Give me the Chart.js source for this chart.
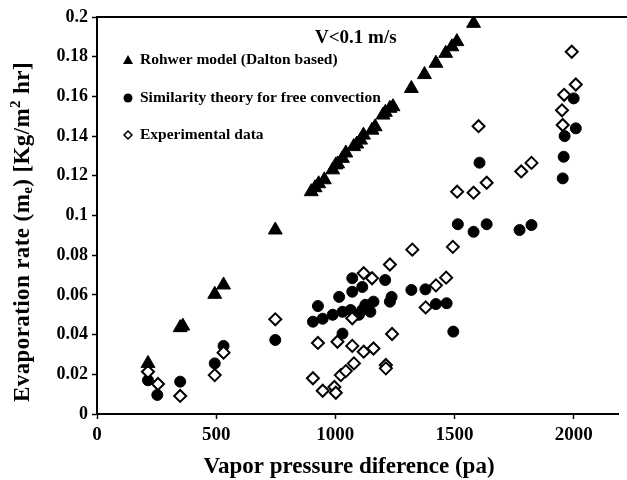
<!DOCTYPE html>
<html lang="en">
<head>
  <meta charset="UTF-8">
  <title>Evaporation rate</title>
  <style>
    html, body { margin: 0; padding: 0; background: #fff; }
    #wrap { width: 627px; height: 480px; }
  </style>
</head>
<body>
  <div id="wrap"><canvas id="evapChart" width="627" height="480"></canvas></div>
  <script src="https://cdn.jsdelivr.net/npm/chart.js"></script>
  <script>
    // values
    const rohwerX = [214, 349, 360, 494, 531, 748, 899, 915, 930, 954, 989, 1002, 1010, 1030, 1044, 1077, 1090, 1106, 1118, 1154, 1167, 1200, 1210, 1229, 1242, 1319, 1374, 1422, 1463, 1489, 1510, 1580];
    const rohwerY = [0.0255, 0.0435, 0.0443, 0.0603, 0.065, 0.0927, 0.112, 0.114, 0.116, 0.118, 0.123, 0.1255, 0.126, 0.1288, 0.1315, 0.1347, 0.136, 0.138, 0.1405, 0.143, 0.1447, 0.1506, 0.152, 0.154, 0.1548, 0.164, 0.171, 0.1767, 0.1817, 0.185, 0.1876, 0.1968];

    const similarityX = [214, 253, 349, 494, 531, 748, 906, 927, 947, 989, 1016, 1030, 1030, 1064, 1071, 1071, 1099, 1113, 1113, 1126, 1147, 1160, 1209, 1229, 1236, 1319, 1378, 1422, 1467, 1495, 1514, 1580, 1605, 1635, 1773, 1823, 1954, 1958, 1962, 2000, 2009];
    const similarityY = [0.017, 0.0096, 0.0163, 0.0255, 0.0343, 0.0373, 0.0465, 0.0544, 0.048, 0.05, 0.059, 0.0515, 0.0405, 0.0524, 0.0684, 0.0616, 0.05, 0.064, 0.0524, 0.055, 0.0515, 0.0566, 0.0675, 0.0566, 0.059, 0.0625, 0.0628, 0.0554, 0.0558, 0.0415, 0.0956, 0.0918, 0.1266, 0.0956, 0.0927, 0.0952, 0.1187, 0.1296, 0.14, 0.159, 0.1439];

    const experimentX = [214, 256, 349, 494, 531, 748, 906, 927, 947, 996, 1002, 1009, 1023, 1044, 1071, 1071, 1078, 1119, 1119, 1154, 1160, 1212, 1212, 1229, 1238, 1323, 1379, 1422, 1465, 1493, 1511, 1580, 1601, 1635, 1780, 1823, 1951, 1954, 1960, 1992, 2009];
    const experimentY = [0.0213, 0.0151, 0.0091, 0.0196, 0.0309, 0.0477, 0.018, 0.0358, 0.0117, 0.0136, 0.0107, 0.0364, 0.0196, 0.0216, 0.0482, 0.0343, 0.0255, 0.0709, 0.0314, 0.0684, 0.033, 0.0247, 0.023, 0.0753, 0.0403, 0.0828, 0.0537, 0.0648, 0.0687, 0.0842, 0.112, 0.1115, 0.145, 0.1165, 0.1222, 0.1265, 0.153, 0.1456, 0.1608, 0.1825, 0.166];

    const xTicks = [0, 500, 1000, 1500, 2000];
    const legendLabels = ['Rohwer model (Dalton based)', 'Similarity theory for free convection', 'Experimental data'];
    const noteText = 'V<0.1 m/s';

    const serif = '"Liberation Serif", "DejaVu Serif", serif';
    const pairs = (xs, ys) => xs.map((x, i) => ({ x: x, y: ys[i] }));

    // legend, note, top border and axis titles drawn by hand
    const decorations = {
      id: 'decorations',
      afterDraw(chart) {
        const ctx = chart.ctx;
        const area = chart.chartArea;
        ctx.save();
        ctx.strokeStyle = '#000';
        ctx.lineWidth = 2;
        ctx.beginPath();
        ctx.moveTo(area.left, area.top);
        ctx.lineTo(chart.width, area.top);
        ctx.stroke();

        ctx.fillStyle = '#000';
        ctx.font = 'bold 19px ' + serif;
        ctx.textBaseline = 'middle';
        ctx.textAlign = 'left';
        ctx.fillText(noteText, 315, 38);

        // legend
        const ly = [60, 98, 135];
        const lx = 128;
        ctx.font = 'bold 15.5px ' + serif;
        legendLabels.forEach((t, i) => {
          ctx.fillStyle = '#000';
          ctx.strokeStyle = '#000';
          ctx.lineWidth = 1.5;
          ctx.beginPath();
          if (i === 0) {
            ctx.moveTo(lx, ly[i] - 5);
            ctx.lineTo(lx + 5, ly[i] + 4);
            ctx.lineTo(lx - 5, ly[i] + 4);
            ctx.closePath();
            ctx.fill();
          } else if (i === 1) {
            ctx.arc(lx, ly[i], 4.5, 0, Math.PI * 2);
            ctx.fill();
          } else {
            ctx.moveTo(lx, ly[i] - 4);
            ctx.lineTo(lx + 4, ly[i]);
            ctx.lineTo(lx, ly[i] + 4);
            ctx.lineTo(lx - 4, ly[i]);
            ctx.closePath();
            ctx.fillStyle = '#fff';
            ctx.fill();
            ctx.stroke();
            ctx.fillStyle = '#000';
          }
          ctx.fillText(t, 140, ly[i]);
        });

        // x title
        ctx.font = 'bold 23px ' + serif;
        ctx.textAlign = 'center';
        ctx.fillText('Vapor pressure diference (pa)', 349, 467);

        // y title with sub/superscript
        ctx.letterSpacing = '0.4px';
        ctx.translate(23, 232);
        ctx.rotate(-Math.PI / 2);
        const big = 'bold 23px ' + serif;
        const small = 'bold 15px ' + serif;
        const parts = [
          ['Evaporation rate (m', big, 0],
          ['e', small, 5],
          [') [Kg/m', big, 0],
          ['2', small, -7],
          [' hr]', big, 0]
        ];
        let total = 0;
        parts.forEach(p => { ctx.font = p[1]; total += ctx.measureText(p[0]).width; });
        let pos = -total / 2;
        ctx.textAlign = 'left';
        parts.forEach(p => {
          ctx.font = p[1];
          ctx.fillText(p[0], pos, p[2]);
          pos += ctx.measureText(p[0]).width;
        });
        ctx.restore();
      }
    };

    new Chart(document.getElementById('evapChart'), {
      type: 'scatter',
      data: {
        datasets: [
          {
            label: legendLabels[0],
            data: pairs(rohwerX, rohwerY),
            pointStyle: 'triangle',
            pointRadius: 8,
            backgroundColor: '#000',
            borderColor: '#000',
            borderWidth: 1
          },
          {
            label: legendLabels[2],
            data: pairs(experimentX, experimentY),
            pointStyle: 'rectRot',
            pointRadius: 6,
            backgroundColor: '#fff',
            borderColor: '#000',
            borderWidth: 2
          },
          {
            label: legendLabels[1],
            data: pairs(similarityX, similarityY),
            pointStyle: 'circle',
            pointRadius: 5.5,
            backgroundColor: '#000',
            borderColor: '#000',
            borderWidth: 1
          }
        ]
      },
      options: {
        responsive: false,
        animation: false,
        layout: { padding: { top: 17, right: 0, bottom: 0, left: 0 } },
        plugins: {
          legend: { display: false },
          tooltip: { enabled: false }
        },
        scales: {
          x: {
            type: 'linear',
            min: 0,
            max: 2186,
            afterBuildTicks: (scale) => { scale.ticks = xTicks.map(v => ({ value: v })); },
            afterFit: (scale) => { scale.height = 66; },
            border: { color: '#000', width: 2 },
            grid: { drawOnChartArea: false, tickColor: '#000', tickLength: 5, tickWidth: 1.5 },
            ticks: {
              color: '#000',
              padding: 5,
              font: { family: serif, size: 19, weight: 'bold' },
              callback: (v) => String(v)
            }
          },
          y: {
            min: 0,
            max: 0.2,
            afterFit: (scale) => { scale.width = 97; },
            border: { color: '#000', width: 2 },
            grid: { drawOnChartArea: false, tickColor: '#000', tickLength: 5, tickWidth: 1.5 },
            ticks: {
              stepSize: 0.02,
              color: '#000',
              padding: 4,
              font: { family: serif, size: 18, weight: 'bold' },
              callback: (v) => String(Math.round(v * 100) / 100)
            }
          }
        }
      },
      plugins: [decorations]
    });
  </script>
</body>
</html>
